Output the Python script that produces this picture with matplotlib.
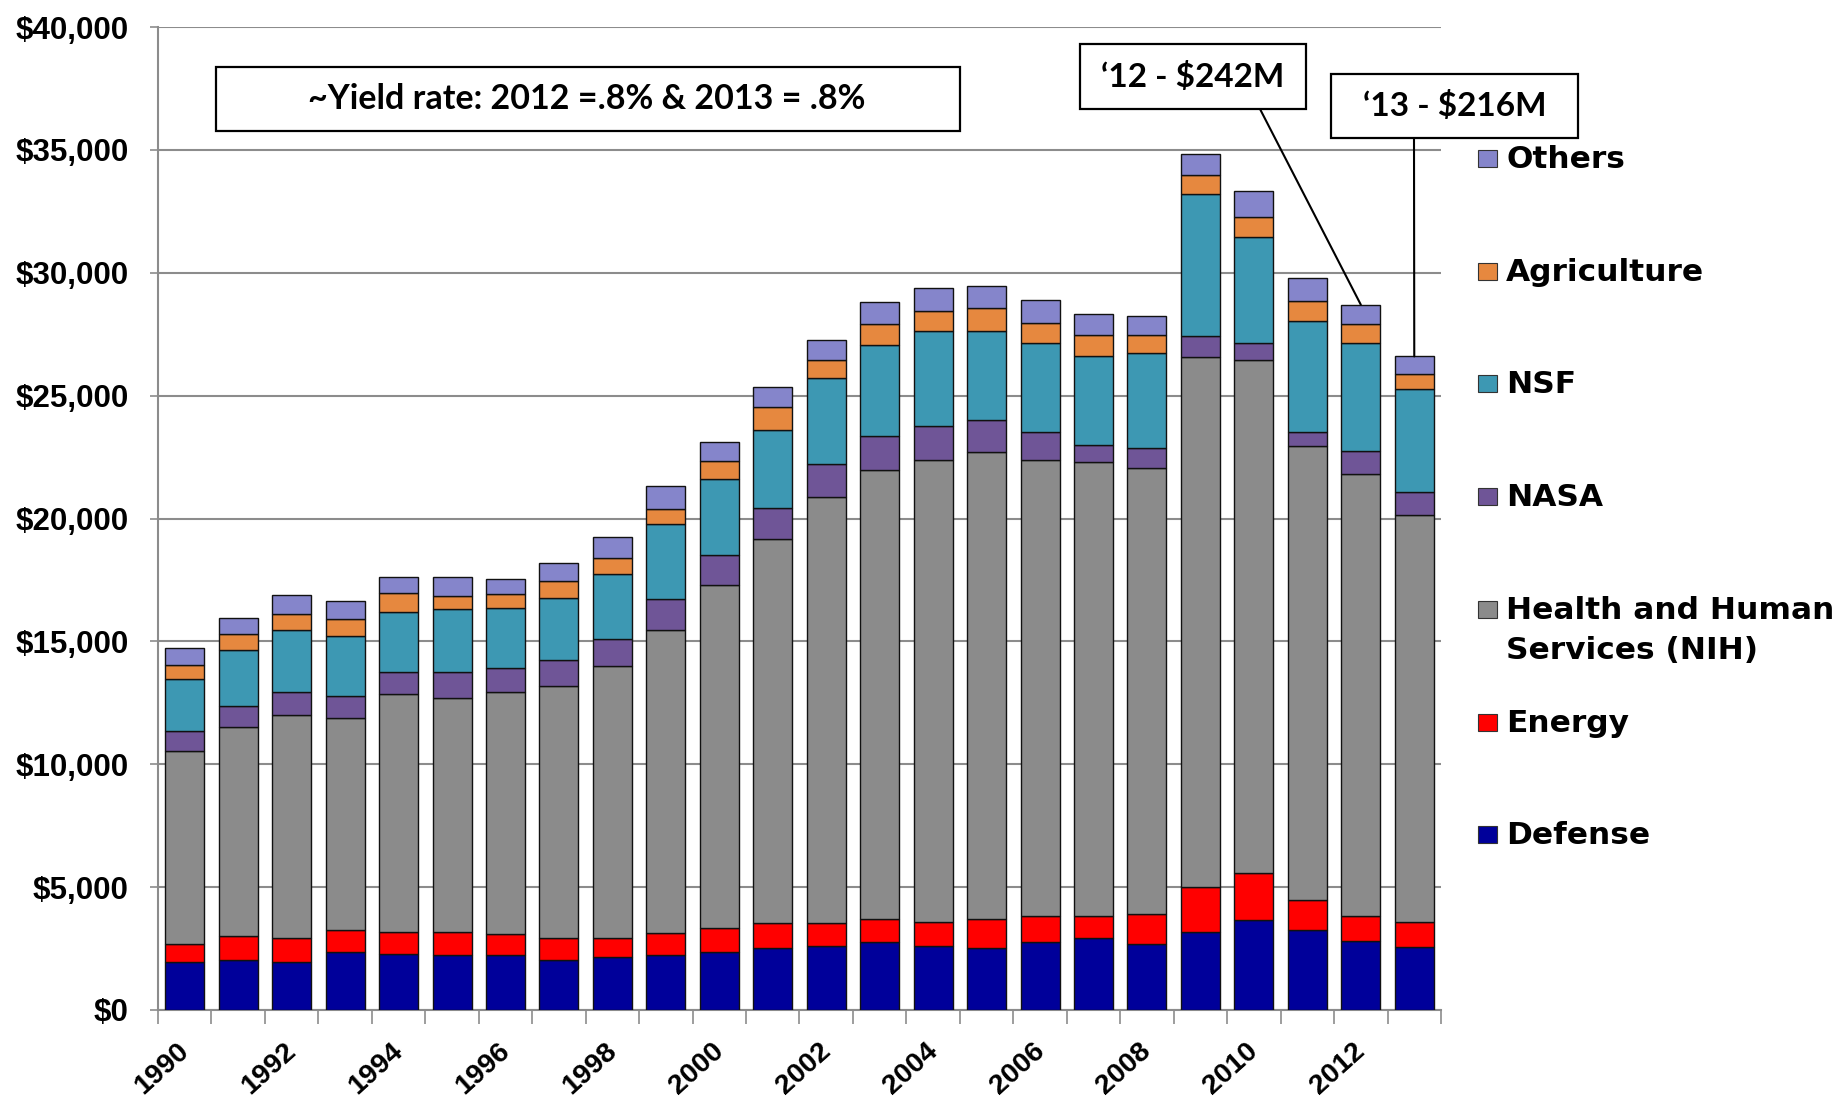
import numpy as np
import matplotlib
matplotlib.use("Agg")
import matplotlib.pyplot as plt
from matplotlib.patches import Rectangle
from matplotlib.ticker import FuncFormatter
from matplotlib.transforms import ScaledTranslation

years = list(range(1990, 2014))

# federal R&D obligations to universities, $ millions
defense = [1950, 2030, 1950, 2360, 2260, 2250, 2220, 2040, 2140, 2250, 2360, 2540,
           2610, 2750, 2610, 2540, 2750, 2940, 2700, 3190, 3670, 3260, 2800, 2550]
energy = [740, 985, 985, 900, 915, 925, 870, 900, 800, 870, 985, 985,
          915, 940, 985, 1160, 1090, 900, 1215, 1810, 1885, 1230, 1045, 1045]
hhs = [7855, 8520, 9085, 8605, 9665, 9520, 9840, 10230, 11055, 12360, 13940, 15640,
       17350, 18265, 18770, 18990, 18525, 18440, 18120, 21555, 20900, 18440, 17975, 16555]
nasa = [825, 825, 915, 900, 915, 1060, 1000, 1085, 1100, 1260, 1215, 1245,
        1350, 1420, 1405, 1330, 1145, 695, 825, 870, 695, 580, 940, 915]
nsf = [2115, 2290, 2535, 2465, 2450, 2550, 2435, 2505, 2665, 3020, 3100, 3190,
       3505, 3680, 3870, 3625, 3625, 3650, 3885, 5795, 4305, 4535, 4375, 4185]
agriculture = [565, 665, 650, 665, 755, 550, 565, 695, 650, 635, 755, 930,
               725, 840, 810, 915, 840, 840, 725, 740, 825, 825, 770, 650]
others = [680, 650, 755, 740, 665, 770, 625, 740, 820, 915, 770, 810,
          795, 900, 930, 915, 900, 840, 755, 855, 1030, 915, 795, 695]

agencies = ["Defense", "Energy", "Health and Human\nServices (NIH)", "NASA",
            "NSF", "Agriculture", "Others"]
series = [defense, energy, hhs, nasa, nsf, agriculture, others]
colors = ["#00009A", "#FF0000", "#8B8B8B", "#6F5597", "#3D98B3", "#E6883F", "#8585CB"]

yield_note = "~Yield rate: 2012 =.8% & 2013 = .8%"
callouts = [("\u201812 - $242M", 2012), ("\u201813 - $216M", 2013)]

W, H = 1841, 1101
GRID = "#8c8c8c"
AXIS_FONT = ["Liberation Sans", "DejaVu Sans"]
LEGEND_FONT = ["DejaVu Sans"]
NOTE_FONT = ["Lato", "DejaVu Sans"]


def fx(px):
    return px / W


def fy(py):
    # py measured from the top edge
    return 1 - py / H


def draw():
    fig = plt.figure(figsize=(W / 100, H / 100), dpi=100)
    ax = fig.add_axes([fx(158), fy(1010), fx(1441) - fx(158), fy(27) - fy(1010)])

    x = np.arange(len(years))
    bottom = np.zeros(len(years))
    for vals, color in zip(series, colors):
        ax.bar(x, vals, width=0.73, bottom=bottom, color=color,
               edgecolor="#111111", linewidth=1.0, zorder=3)
        bottom += np.array(vals)
    totals = bottom

    ax.set_xlim(-0.5, len(years) - 0.5)
    ax.set_ylim(0, 40000)
    ax.set_yticks(np.arange(0, 40001, 5000))
    ax.yaxis.set_major_formatter(FuncFormatter(lambda v, _: f"${v:,.0f}"))
    ax.yaxis.grid(True, color=GRID, linewidth=1.5, zorder=0)
    ax.tick_params(axis="y", length=6, width=1.2, color=GRID, pad=15)

    ax.set_xticks(x[::2])
    ax.set_xticklabels([str(y) for y in years[::2]])
    ax.set_xticks(np.arange(-0.5, len(years), 1), minor=True)
    ax.tick_params(axis="x", which="major", length=0, pad=20)
    ax.tick_params(axis="x", which="minor", length=10, width=1.2, color=GRID)

    plt.setp(ax.get_yticklabels(), fontsize=22.5, fontweight="bold", family=AXIS_FONT)
    plt.setp(ax.get_xticklabels(), fontsize=20.5, fontweight="bold", family=AXIS_FONT,
             rotation=42, ha="right", va="top", rotation_mode="anchor")
    # nudge the slanted year labels left so they end under their bar
    nudge = ScaledTranslation(-0.08, 0, fig.dpi_scale_trans)
    for lbl in ax.get_xticklabels():
        lbl.set_transform(lbl.get_transform() + nudge)

    for side in ("top", "right"):
        ax.spines[side].set_visible(False)
    for side in ("left", "bottom"):
        ax.spines[side].set_color(GRID)
        ax.spines[side].set_linewidth(1.5)

    # yield-rate note
    fig.add_artist(Rectangle((fx(216), fy(131)), fx(960) - fx(216), fy(67) - fy(131),
                             transform=fig.transFigure, facecolor="white",
                             edgecolor="black", linewidth=1.6, zorder=5))
    fig.text(fx(587), fy(99), yield_note, ha="center", va="center", fontsize=24.5,
             fontweight="bold", family=NOTE_FONT, zorder=6)

    # annual return call-outs with leader lines to the bar tops
    boxes = [(1080, 44, 1306, 109, 1260), (1331, 74, 1578, 138, 1414)]
    for (text, year), (x0, y0, x1, y1, lx) in zip(callouts, boxes):
        i = years.index(year)
        ax.annotate("", xy=(i, totals[i]), xycoords="data",
                    xytext=(lx, H - y1), textcoords="figure pixels",
                    arrowprops=dict(arrowstyle="-", color="black", lw=1.5,
                                    shrinkA=0, shrinkB=0),
                    annotation_clip=False, zorder=4)
        fig.add_artist(Rectangle((fx(x0), fy(y1)), fx(x1) - fx(x0), fy(y0) - fy(y1),
                                 transform=fig.transFigure, facecolor="white",
                                 edgecolor="black", linewidth=1.6, zorder=5))
        fig.text(fx((x0 + x1) / 2), fy((y0 + y1) / 2), text, ha="center",
                 va="center", fontsize=24, fontweight="bold", family=NOTE_FONT,
                 zorder=6)

    # legend, top entry first; wrapped labels hang below their marker
    base = 168
    for k, (name, color) in enumerate(zip(agencies[::-1], colors[::-1])):
        yb = base + k * 112.7
        fig.add_artist(Rectangle((fx(1478), fy(yb - 1)), fx(19), 17 / H,
                                 transform=fig.transFigure, facecolor=color,
                                 edgecolor="#333333", linewidth=0.8))
        for j, line in enumerate(name.split("\n")):
            fig.text(fx(1506), fy(yb + j * 40), line, ha="left", va="baseline",
                     fontsize=22.5, fontweight="bold", family=LEGEND_FONT)

    fig.savefig("out.png", dpi=100)


if __name__ == "__main__":
    draw()
